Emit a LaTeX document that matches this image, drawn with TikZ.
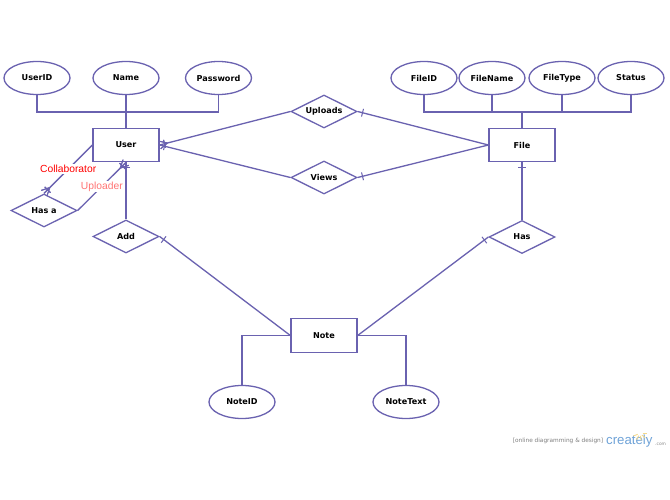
\documentclass[tikz,border=0pt]{standalone}
\usepackage{fontspec}
\setmainfont{DejaVu Sans}
\newfontfamily\labelfont{Liberation Sans}
\usetikzlibrary{shapes.geometric,decorations.markings,calc}
\definecolor{erline}{HTML}{6A62B0}
\definecolor{logoblue}{HTML}{6FA3D8}
\definecolor{sunray}{HTML}{F5D98A}
\tikzset{
  x=1pt,y=-1pt,
  every node/.style={font=\fontsize{8.1}{9}\selectfont\bfseries,text=black,inner sep=0pt},
  entity/.style={draw=erline,line width=1.3pt,minimum width=66pt,minimum height=33.5pt,rectangle},
  attr/.style={draw=erline,line width=1.3pt,ellipse,minimum width=66pt,minimum height=33pt},
  rel/.style={draw=erline,line width=1.3pt,diamond,minimum width=66pt,minimum height=33pt,aspect=2},
  link/.style={draw=erline,line width=1.3pt},
  barstart/.style={postaction={decorate},decoration={markings,mark=at position 5pt with {\draw[erline,line width=1pt] (0,-4pt)--(0,4pt);}}},
  barend/.style={postaction={decorate},decoration={markings,mark=at position -5pt with {\draw[erline,line width=1pt] (0,-4pt)--(0,4pt);}}},
  crowend/.style={postaction={decorate},decoration={markings,mark=at position 1 with {\draw[erline,line width=1pt] (-8pt,0)--(0,-4pt) (-8pt,0)--(0,4pt);}}},
  rolelabel/.style={font=\labelfont\fontsize{10.3}{11}\selectfont,fill=white,inner sep=1pt}
}
\begin{document}
\begin{tikzpicture}
\useasboundingbox (0,0) rectangle (670,500);
\fill[white] (0,0) rectangle (670,500);
\node[entity] (user) at (126,145) {User};
\node[entity] (file) at (522,145) {File};
\node[entity] (note) at (324,335.5) {Note};
\node[attr] (userid) at (37,78) {UserID};
\node[attr] (name) at (126,78) {Name};
\node[attr] (password) at (218.5,78) {Password};
\node[attr] (fileid) at (424,78) {FileID};
\node[attr] (filename) at (492,78) {FileName};
\node[attr] (filetype) at (562,78) {FileType};
\node[attr] (status) at (631,78) {Status};
\node[attr] (noteid) at (242,402) {NoteID};
\node[attr] (notetext) at (406,402) {NoteText};
\node[rel] (hasa) at (44,210.5) {Has a};
\node[rel] (add) at (126,236.5) {Add};
\node[rel] (uploads) at (324,111.5) {Uploads};
\node[rel] (views) at (324,177.5) {Views};
\node[rel] (has) at (522,237) {Has};
\coordinate (ubus) at (126,112);
\coordinate (fbus) at (522,112);
\draw[link] (userid.south) |- (ubus);
\draw[link] (password.south) |- (ubus);
\draw[link] (name.south) -- (user.north);
\draw[link] (fileid.south) |- (fbus);
\draw[link] (status.south) |- (fbus);
\draw[link] (filename.south) -- (filename.south |- fbus);
\draw[link] (filetype.south) -- (filetype.south |- fbus);
\draw[link] (file.north) -- (fbus);
\draw[link] (note.west) -| (noteid.north);
\draw[link] (note.east) -| (notetext.north);
\draw[link,barend,crowend] (uploads.west) -- (user.east);
\draw[link,barend] (views.west) -- (user.east);
\draw[link,barend] (file.west) -- (uploads.east);
\draw[link,barend] (file.west) -- (views.east);
\draw[link,barend] (add.north) -- (user.south);
\draw[link,barstart] (file.south) -- (has.north);
\draw[link,barstart] (add.east) -- (note.west);
\draw[link,barend] (note.east) -- (has.west);
\draw[link,barend,crowend] (user.west) -- (hasa.north) node[rolelabel,text=red,pos=.5] (collab) {Collaborator};
\draw[link,barend,crowend] (hasa.east) -- (user.south) node[rolelabel,text=red!55,pos=.5] (uploader) {Uploader};
\node[font=\fontsize{5.8}{6}\selectfont,text=black!50] (tag) at (558,441) {[online diagramming \& design]};
\node[font=\labelfont\fontsize{13.2}{14}\selectfont,text=logoblue,anchor=west] (logo) at (606,441) {creately};
\node[font=\fontsize{4.4}{6}\selectfont,text=black!45,anchor=west] (com) at (655,444) {.com};
\foreach \a in {200,240,280,320,0}
  \draw[sunray,line width=.9pt] (640,433.5)++(\a:2.5pt) -- ++(\a:4.5pt);
\end{tikzpicture}
\end{document}
